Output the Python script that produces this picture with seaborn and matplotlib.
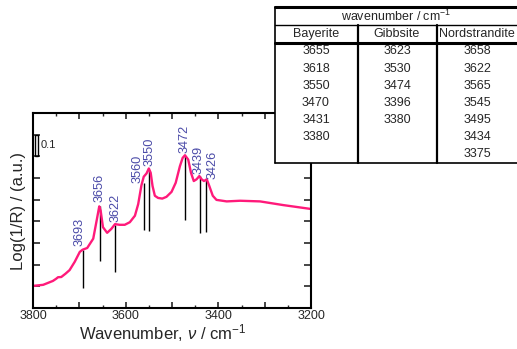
import matplotlib
matplotlib.use("Agg")
import matplotlib.pyplot as plt
import seaborn as sns
import pandas as pd
from matplotlib.ticker import MultipleLocator, FuncFormatter

# ---------------- data ----------------
wavenumber = [3800, 3778, 3757, 3750, 3746, 3739, 3730, 3721, 3710, 3699, 3693, 3683,
              3670, 3662, 3657, 3654, 3649, 3640, 3631, 3623, 3613, 3602, 3591,
              3580, 3573, 3566, 3561, 3555, 3550, 3546, 3542, 3537, 3530, 3521,
              3512, 3501, 3492, 3483, 3477, 3472, 3465, 3459, 3453, 3447, 3441,
              3436, 3431, 3425, 3420, 3412, 3404, 3382, 3353, 3310, 3260, 3200]
absorb = [0.102, 0.107, 0.125, 0.135, 0.142, 0.143, 0.158, 0.175, 0.213, 0.259, 0.269, 0.277,
          0.320, 0.411, 0.469, 0.449, 0.373, 0.347, 0.365, 0.387, 0.384, 0.384, 0.396,
          0.426, 0.479, 0.566, 0.606, 0.621, 0.644, 0.624, 0.563, 0.518, 0.508, 0.505,
          0.513, 0.536, 0.578, 0.654, 0.693, 0.705, 0.685, 0.624, 0.586, 0.594, 0.609,
          0.594, 0.586, 0.594, 0.566, 0.518, 0.499, 0.492, 0.495, 0.492, 0.475, 0.457]

peak_pos = [3693, 3656, 3622, 3560, 3550, 3472, 3439, 3426]
peak_top = [0.266, 0.469, 0.384, 0.578, 0.639, 0.703, 0.609, 0.594]
peak_bottom = [0.091, 0.218, 0.164, 0.362, 0.356, 0.406, 0.347, 0.350]
peak_labels = ["3693", "3656", "3622", "3560", "3550", "3472", "3439", "3426"]

table_title = "wavenumber / cm$^{-1}$"
table_columns = ["Bayerite", "Gibbsite", "Nordstrandite"]
bayerite = ["3655", "3618", "3550", "3470", "3431", "3380"]
gibbsite = ["3623", "3530", "3474", "3396", "3380"]
nordstrandite = ["3658", "3622", "3565", "3545", "3495", "3434", "3375"]

x_ticklabels = ["3800", "3600", "3400", "3200"]

# ---------------- style ----------------
sns.set_theme(style="ticks")
plt.rcParams["font.family"] = ["Liberation Sans", "DejaVu Sans"]
plt.rcParams["mathtext.fontset"] = "custom"
plt.rcParams["mathtext.rm"] = "Liberation Sans"
plt.rcParams["mathtext.it"] = "Liberation Sans:italic"

curve_color = "#ff1a7a"
label_color = "#4b4ba8"

fig = plt.figure(figsize=(5.17, 3.49), dpi=100)
ax = fig.add_axes([33/517, 1 - 308/349, (311-33)/517, (308-113)/349])

df = pd.DataFrame({"wn": wavenumber, "A": absorb})
sns.lineplot(data=df, x="wn", y="A", sort=False, color=curve_color, lw=1.7, ax=ax)

ax.vlines(peak_pos, peak_bottom, peak_top, color="black", lw=1.0, zorder=1)

# label placement (style offsets; positive = towards the left on the reversed axis)
label_dx = [6, 0, 0, 15, -1, 0, 3, -14]
label_y_gap = [0.022, 0.02, 0.015, 0.0, 0.015, 0.012, 0.010, 0.002]
for p, t, lab, dx, g in zip(peak_pos, peak_top, peak_labels, label_dx, label_y_gap):
    ax.text(p + dx, t + g, lab, rotation=90, ha="center", va="bottom",
            color=label_color, fontsize=9.2)

ax.set_xlim(3800, 3200)
ax.set_ylim(0, 0.9)

# scale bar
ax.add_patch(plt.Rectangle((3789.5, 0.700), 6.0, 0.1, fill=False, ec="black", lw=1.0))
ax.text(3783, 0.750, "0.1", fontsize=8, va="center", ha="left")

ax.xaxis.set_major_locator(MultipleLocator(100))
ax.xaxis.set_minor_locator(MultipleLocator(50))
ax.xaxis.set_major_formatter(FuncFormatter(
    lambda v, pos: str(int(round(v))) if str(int(round(v))) in x_ticklabels else ""))
ax.yaxis.set_major_locator(MultipleLocator(0.1))
ax.set_yticklabels([])
ax.tick_params(axis="both", which="major", direction="in", top=True, right=True,
               length=4, width=1.2, labelsize=9, pad=1.5)
ax.tick_params(axis="y", which="major", length=5)
ax.tick_params(axis="both", which="minor", direction="in", top=True, right=True,
               length=2.2, width=1.0)
ax.tick_params(axis="y", which="minor", left=False, right=False)
for s in ax.spines.values():
    s.set_linewidth(1.5)
    s.set_color("black")

ax.set_xlabel("Wavenumber, $\\nu$ / cm$^{-1}$", fontsize=12)
ax.set_ylabel("Log(1/R) / (a.u.)", fontsize=12)
ax.xaxis.set_label_coords((163 - 33) / 278, (308 - 322) / 195)
ax.yaxis.set_label_coords((26 - 33) / 278, 0.5)

# ---------------- table overlay ----------------
tax = fig.add_axes([0, 0, 1, 1], zorder=5)
tax.set_xlim(0, 517)
tax.set_ylim(349, 0)
tax.axis("off")
tax.patch.set_alpha(0)

tax.add_patch(plt.Rectangle((275, 7), 260, 156, fc="white", ec="none", zorder=0))
tax.plot([275, 517], [7, 7], color="black", lw=2.2)
tax.plot([275, 275], [7, 163], color="black", lw=1.2)
tax.plot([275, 517], [163, 163], color="black", lw=1.2)
tax.plot([275, 517], [25, 25], color="black", lw=1.0)
tax.plot([275, 517], [43, 43], color="black", lw=2.2)
for xs in (357.5, 436.5):
    tax.plot([xs, xs], [25, 163], color="black", lw=1.6)

col_x = [316, 397, 477]
tax.text(396, 16, table_title, ha="center", va="center", fontsize=9)
for cx, name in zip(col_x, table_columns):
    tax.text(cx, 34, name, ha="center", va="center", fontsize=9)
row_y0, row_dy = 51.5, 17.1
for cx, col in zip(col_x, [bayerite, gibbsite, nordstrandite]):
    for i, v in enumerate(col):
        tax.text(cx, row_y0 + i * row_dy, v, ha="center", va="center", fontsize=9)

fig.savefig("out.png", dpi=100)
